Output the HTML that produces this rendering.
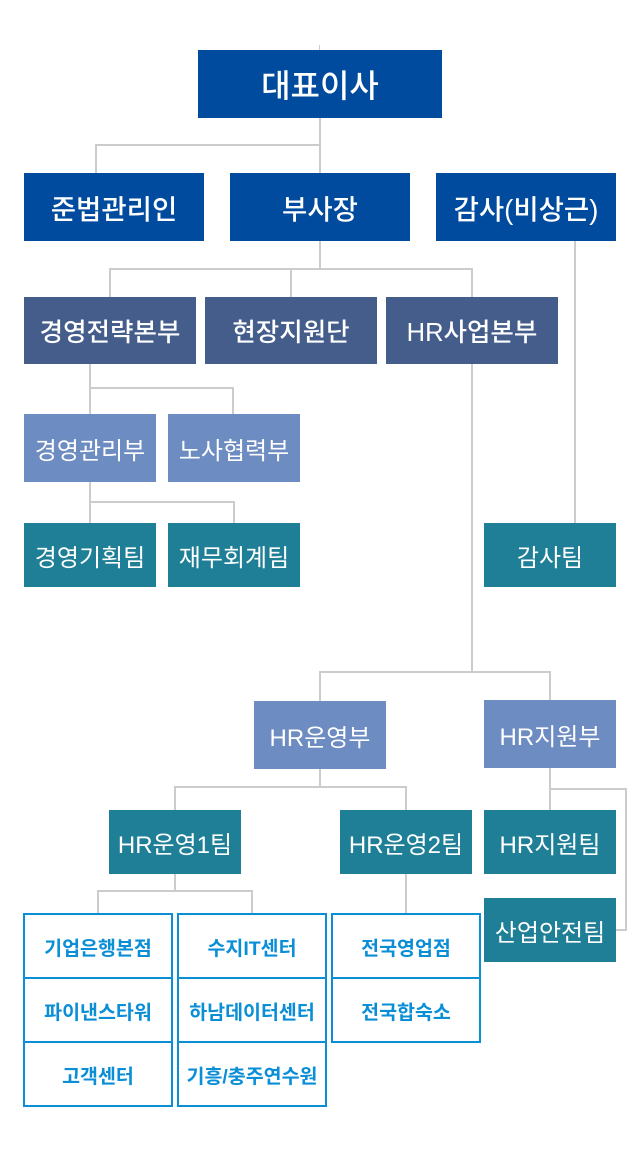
<!DOCTYPE html>
<html lang="ko">
<head>
<meta charset="utf-8">
<style>
  html, body { margin:0; padding:0; background:#fff; }
  body { width:640px; height:1163px; position:relative; overflow:hidden;
         font-family:"Liberation Sans","Noto Sans CJK KR","NanumGothic",sans-serif; }
  .l { position:absolute; background:#cccccc; }
  .b { position:absolute; display:flex; align-items:center; justify-content:center;
       color:#fff; white-space:nowrap; box-sizing:border-box; }
  .c1 { background:#004b9d; font-weight:500; }
  .c2 { background:#445d8b; font-weight:500; }
  .c3 { background:#6d8cc1; }
  .c4 { background:#1e7f96; }
  .cell { position:absolute; box-sizing:border-box; border:2px solid #0a8ed6; background:#fff;
          display:flex; align-items:center; justify-content:center; color:#0a8ed6;
          font-size:19.5px; font-weight:bold; white-space:nowrap; width:150px; height:66px; }
</style>
</head>
<body>
<!-- connectors -->
<div class="l" style="left:319px;top:45px;width:1px;height:6px;"></div>
<div class="l" style="left:319px;top:117px;width:2px;height:57px;"></div>
<div class="l" style="left:95px;top:144px;width:226px;height:2px;"></div>
<div class="l" style="left:95px;top:144px;width:2px;height:30px;"></div>

<div class="l" style="left:319px;top:240px;width:2px;height:30px;"></div>
<div class="l" style="left:109px;top:268px;width:364px;height:2px;"></div>
<div class="l" style="left:109px;top:268px;width:2px;height:30px;"></div>
<div class="l" style="left:290px;top:268px;width:2px;height:30px;"></div>
<div class="l" style="left:471px;top:268px;width:2px;height:30px;"></div>

<div class="l" style="left:574px;top:240px;width:2px;height:284px;"></div>

<div class="l" style="left:89px;top:363px;width:2px;height:52px;"></div>
<div class="l" style="left:89px;top:387px;width:145px;height:2px;"></div>
<div class="l" style="left:232px;top:387px;width:2px;height:28px;"></div>

<div class="l" style="left:89px;top:481px;width:2px;height:43px;"></div>
<div class="l" style="left:89px;top:501px;width:146px;height:2px;"></div>
<div class="l" style="left:233px;top:501px;width:2px;height:23px;"></div>

<div class="l" style="left:471px;top:363px;width:2px;height:310px;"></div>
<div class="l" style="left:319px;top:671px;width:232px;height:2px;"></div>
<div class="l" style="left:319px;top:671px;width:2px;height:31px;"></div>
<div class="l" style="left:549px;top:671px;width:2px;height:30px;"></div>

<div class="l" style="left:319px;top:767px;width:2px;height:21px;"></div>
<div class="l" style="left:174px;top:786px;width:233px;height:2px;"></div>
<div class="l" style="left:174px;top:786px;width:2px;height:25px;"></div>
<div class="l" style="left:405px;top:786px;width:2px;height:25px;"></div>

<div class="l" style="left:549px;top:767px;width:2px;height:44px;"></div>
<div class="l" style="left:549px;top:788px;width:78px;height:2px;"></div>
<div class="l" style="left:625px;top:788px;width:2px;height:143px;"></div>
<div class="l" style="left:615px;top:929px;width:12px;height:2px;"></div>

<div class="l" style="left:174px;top:873px;width:2px;height:18px;"></div>
<div class="l" style="left:97px;top:890px;width:156px;height:2px;"></div>
<div class="l" style="left:97px;top:890px;width:2px;height:24px;"></div>
<div class="l" style="left:251px;top:890px;width:2px;height:24px;"></div>

<div class="l" style="left:405px;top:873px;width:2px;height:41px;"></div>

<!-- boxes -->
<div class="b c1" style="left:198px;top:50px;width:244px;height:68px;font-size:32px;">대표이사</div>

<div class="b c1" style="left:24px;top:173px;width:180px;height:68px;font-size:27.5px;">준법관리인</div>
<div class="b c1" style="left:230px;top:173px;width:180px;height:68px;font-size:27.5px;">부사장</div>
<div class="b c1" style="left:436px;top:173px;width:180px;height:68px;font-size:27.5px;">감사(비상근)</div>

<div class="b c2" style="left:24px;top:297px;width:172px;height:67px;font-size:25.5px;">경영전략본부</div>
<div class="b c2" style="left:205px;top:297px;width:172px;height:67px;font-size:25.5px;">현장지원단</div>
<div class="b c2" style="left:386px;top:297px;width:172px;height:67px;font-size:25.5px;">HR사업본부</div>

<div class="b c3" style="left:24px;top:414px;width:132px;height:68px;font-size:24px;">경영관리부</div>
<div class="b c3" style="left:168px;top:414px;width:132px;height:68px;font-size:24px;">노사협력부</div>

<div class="b c4" style="left:24px;top:523px;width:132px;height:64px;font-size:24px;">경영기획팀</div>
<div class="b c4" style="left:168px;top:523px;width:132px;height:64px;font-size:24px;">재무회계팀</div>
<div class="b c4" style="left:484px;top:523px;width:132px;height:64px;font-size:24px;">감사팀</div>

<div class="b c3" style="left:254px;top:701px;width:132px;height:68px;font-size:24px;">HR운영부</div>
<div class="b c3" style="left:484px;top:700px;width:132px;height:68px;font-size:24px;">HR지원부</div>

<div class="b c4" style="left:109px;top:810px;width:132px;height:64px;font-size:24px;">HR운영1팀</div>
<div class="b c4" style="left:340px;top:810px;width:132px;height:64px;font-size:24px;">HR운영2팀</div>
<div class="b c4" style="left:484px;top:810px;width:132px;height:64px;font-size:24px;">HR지원팀</div>
<div class="b c4" style="left:484px;top:898px;width:132px;height:64px;font-size:24px;">산업안전팀</div>

<!-- bordered cells -->
<div class="cell" style="left:23px;top:913px;">기업은행본점</div>
<div class="cell" style="left:23px;top:977px;">파이낸스타워</div>
<div class="cell" style="left:23px;top:1041px;">고객센터</div>

<div class="cell" style="left:177px;top:913px;">수지IT센터</div>
<div class="cell" style="left:177px;top:977px;">하남데이터센터</div>
<div class="cell" style="left:177px;top:1041px;">기흥/충주연수원</div>

<div class="cell" style="left:331px;top:913px;">전국영업점</div>
<div class="cell" style="left:331px;top:977px;">전국합숙소</div>
</body>
</html>
